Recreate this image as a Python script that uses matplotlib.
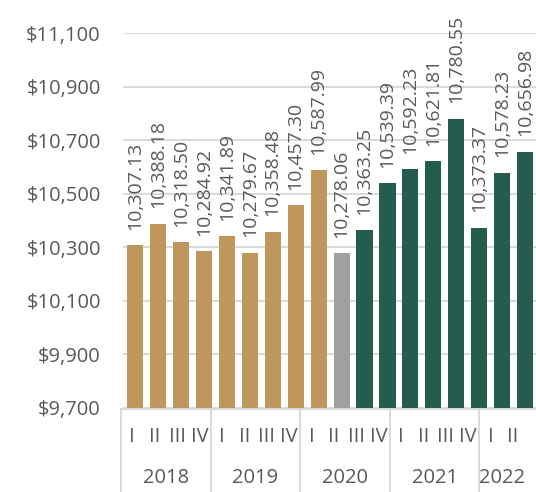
import matplotlib
matplotlib.use('Agg')
import matplotlib.pyplot as plt
import numpy as np
from matplotlib.ticker import FuncFormatter

# quarterly values
years = ['2018', '2019', '2020', '2021', '2022']
year_sizes = [4, 4, 4, 4, 2]
quarters = ['I', 'II', 'III', 'IV'] * 4 + ['I', 'II']
values = [10307.13, 10388.18, 10318.50, 10284.92, 10341.89, 10279.67,
          10358.48, 10457.30, 10587.99, 10278.06, 10363.25, 10539.39,
          10592.23, 10621.81, 10780.55, 10373.37, 10578.23, 10656.98]

TAN = '#BF965C'
GREY = '#A0A0A0'
GREEN = '#245C4D'
TEXT = '#595959'
LINE = '#D9D9D9'

bar_colors = [TAN] * 9 + [GREY] + [GREEN] * 8

plt.rcParams['font.family'] = ['Open Sans', 'DejaVu Sans']
FS = 14.5

W, H = 536, 492
fig = plt.figure(figsize=(W / 100, H / 100), dpi=100)

# main bar axes
ax = fig.add_axes([123 / W, 84 / H, 413 / W, 375 / H])
x = list(range(len(values)))
ax.bar(x, values, width=0.70, color=bar_colors, zorder=3)
ax.set_xlim(-0.52, 17.47)
ax.set_ylim(9700, 11100)
ax.set_yticks(np.arange(9700, 11101, 200))
ax.yaxis.set_major_formatter(FuncFormatter(lambda v, p: f'${v:,.0f}'))
ax.tick_params(axis='y', length=0, pad=16, labelsize=FS, labelcolor=TEXT)
ax.set_xticks([])
ax.grid(axis='y', color=LINE, linewidth=1.4, zorder=0)
for s in ax.spines.values():
    s.set_visible(False)

for xi, v in zip(x, values):
    ax.annotate(f'{v:,.2f}', (xi, v), xytext=(0, 11), textcoords='offset points',
                rotation=90, ha='center', va='bottom', fontsize=14, color=TEXT)

# two-level category axis
lab = fig.add_axes([121 / W, 0, 403.2 / W, 84 / H])
lab.set_xlim(0, 18)
lab.set_ylim(0, 84)
lab.axis('off')
lab.plot([0, 18 * 1.3], [83, 83], color=LINE, lw=1.4, clip_on=False)
for i, q in enumerate(quarters):
    lab.text(i + 0.5, 55, q, ha='center', va='center', fontsize=FS, color=TEXT)
start = 0
for yr, n in zip(years, year_sizes):
    lab.plot([start, start], [0, 83], color=LINE, lw=1.4, clip_on=False)
    lab.text(start + n / 2, 14, yr, ha='center', va='center', fontsize=FS, color=TEXT)
    start += n

fig.savefig('out.png', dpi=100)
